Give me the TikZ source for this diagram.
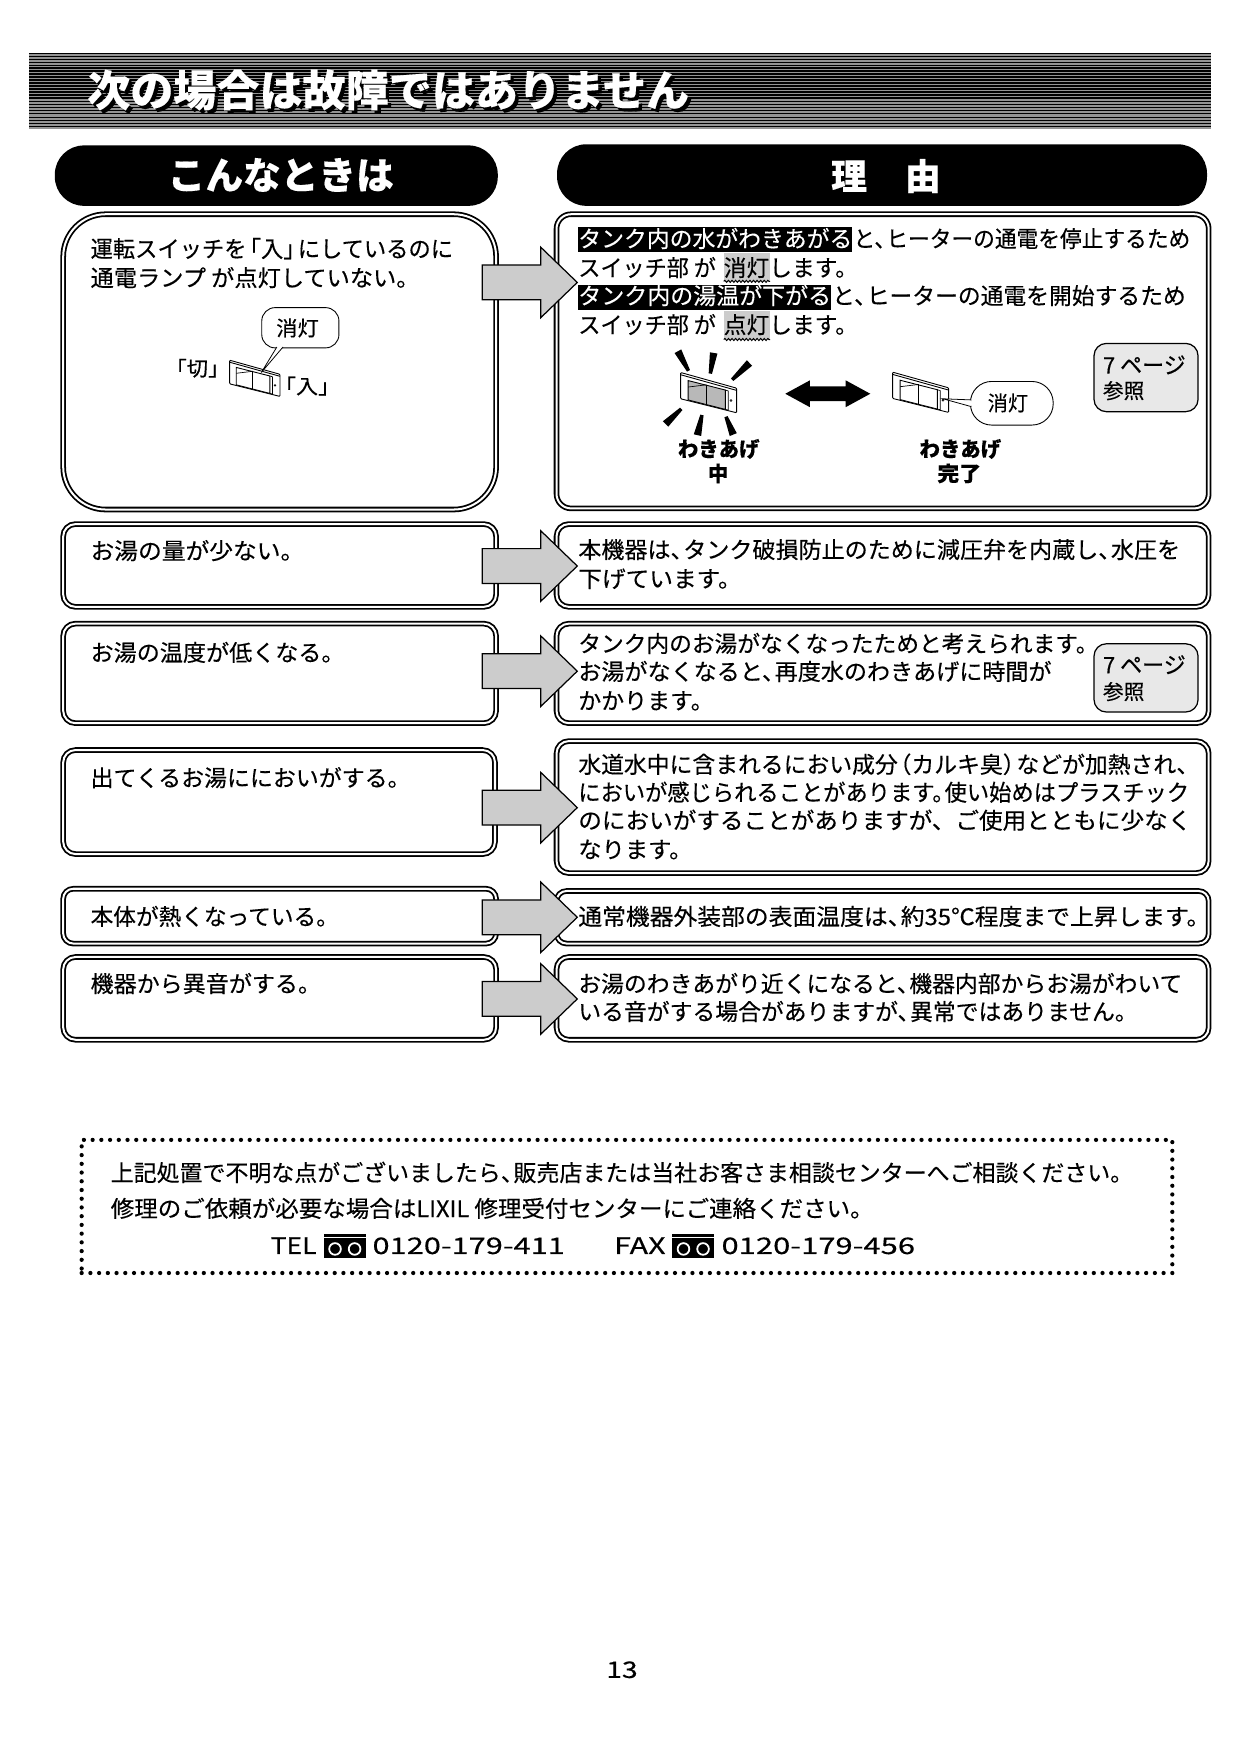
\documentclass[tikz,border=0pt]{standalone}
\usepackage{fontspec}
\usepackage{graphicx}
\setmainfont[FakeBold=0.3]{Noto Sans CJK JP}
\usetikzlibrary{shapes.arrows,calc,decorations.pathmorphing}
\newcommand\tou{、\kern-.45em}
\newcommand\ob{\kern-.35em「}
\newcommand\cb{」\kern-.35em}
\newcommand\tl[6][]{\node[txt,#1,font=\fontsize{20.4}{24}\selectfont] (#2) at (#3,{#5+8}) {\resizebox{\dimexpr#4pt-#3pt\relax}{\height}{#6}};}
\newcommand\tls[7][]{\node[txt,#1,font=\fontsize{#6}{#6}\selectfont] (#2) at (#3,{#5+0.39*#6}) {\resizebox{\dimexpr#4pt-#3pt\relax}{\height}{#7}};}
\newcommand\dbox[6]{\node[dblbox,rounded corners=#6,minimum width={(#4-#2-3)*1pt},minimum height={(#5-#3-3)*1pt}] (#1) at ({(#2+#4)/2},{(#3+#5)/2}) {};}
\newcommand\barrow[2]{\node[blockarrow] (#1) at (465.5,#2) {\rule{0pt}{30pt}};}
\newcommand\switchpanel[4]{\begin{scope}[shift={(#1,#2)},scale=#3]
 \draw[fill=white,line width=.8,rounded corners=.8] (0,0) -- (50,14) -- (50,36) -- (0,23.5) -- cycle;
 \draw[line width=.8] (0,2) -- (50,16);
 \draw[fill=#4,line width=.8] (6.6,7.2) -- (40,15.7) -- (40,33) -- (6.6,24.5) -- cycle;
 \draw[line width=.6] (23,11) -- (23,29);
 \draw[line width=.6] (6.6,13) -- (23,11);
 \draw[line width=.6] (40,15.7) -- (42.5,16.5) -- (42.5,33.6) -- (40,33);
 \draw[line width=.5] (45,25) circle (.9);
\end{scope}}
\newcommand\ray[2]{\fill[black] ($(#1)!3.4pt!90:(#2)$) -- ($(#1)!3.4pt!-90:(#2)$) -- ($(#2)!1.5pt!90:(#1)$) -- ($(#2)!1.5pt!-90:(#1)$) -- cycle;}
\newcommand\freedial[2]{\fill[black] (#1,#2) rectangle ++(37.5,22);
 \draw[white,line width=1.6] ({#1+10},{#2+13.5}) circle (5.2);
 \draw[white,line width=1.6] ({#1+27.5},{#2+13.5}) circle (5.2);
 \draw[white,line width=1] ({#1},{#2+3.4}) -- ({#1+37.5},{#2+3.4});}
\tikzset{
 txt/.style={anchor=base west,inner sep=0,outer sep=0},
 dblbox/.style={draw=black,fill=white,double=white,double distance=1.8,line width=1.6,inner sep=0,outer sep=0},
 pill/.style={fill=black,rounded corners=26,inner sep=0,outer sep=0},
 blockarrow/.style={single arrow,draw=black,fill=black!20,line width=1.1,inner sep=0,outer sep=0,minimum height=85,minimum width=62,single arrow head extend=16,single arrow tip angle=88},
 bubble/.style={draw=black,fill=white,line width=.8,inner sep=0,outer sep=0},
 refbox/.style={draw=black,fill=black!9,line width=1.1,rounded corners=11,inner sep=0,outer sep=0,minimum width=93,minimum height=61},
 wavy/.style={decorate,decoration={snake,amplitude=.9,segment length=3.2},line width=.9},
 dots/.style={draw=black,line width=3.8,line cap=round,dash pattern=on 0pt off 7.8pt},
}
\begin{document}
\begin{tikzpicture}[x=1pt,y=-1pt]
\useasboundingbox (0,0) rectangle (1108.5,1568);
\fill[white] (0,0) rectangle (1108.5,1568);
% header band
\fill[black!42] (26,47) rectangle (1083,115);
\foreach \yy in {48,50.7,...,60} {\draw[black,line width=.9] (26,\yy) -- (1083,\yy);}
\foreach \yy in {61,63.7,...,104} {\draw[black,line width=1.7] (26,\yy) -- (1083,\yy);}
\foreach \yy in {105,107.7,...,115} {\draw[black,line width=.9] (26,\yy) -- (1083,\yy);}
\tls[text=black]{titleshadow}{81}{619}{83}{38.4}{\bfseries 次の場合は故障ではありません}
\tls[text=white]{title}{78}{616}{80}{38.4}{\bfseries 次の場合は故障ではありません}
% column heads
\node[pill,minimum width=396,minimum height=54] (headL) at (247,157) {};
\node[pill,minimum width=581,minimum height=55] (headR) at (788.5,156.5) {};
\tls[text=white]{headLt}{150}{352}{156}{33.7}{\bfseries こんなときは}
\tls[text=white]{headRa}{743}{775}{157}{32}{\bfseries 理}
\tls[text=white]{headRb}{809}{841}{157}{32}{\bfseries 由}
% boxes
\dbox{L1}{55}{190}{445}{457}{38}
\dbox{R1}{496}{190}{1082}{456}{13}
\dbox{L2}{55}{467}{445}{544}{11}
\dbox{R2}{496}{467}{1082}{544}{11}
\dbox{L3}{55}{556}{445}{648}{11}
\dbox{R3}{496}{556}{1082}{648}{11}
\dbox{L4}{55}{669}{444}{765}{11}
\dbox{R4}{496}{661}{1082}{782}{11}
\dbox{L5}{55}{793}{445}{845}{9}
\dbox{R5}{496}{795}{1082}{845}{9}
\dbox{L6}{55}{854}{445}{931}{11}
\dbox{R6}{496}{854}{1082}{931}{11}
% arrows
\barrow{A1}{252.5}
\barrow{A2}{506}
\barrow{A3}{600}
\barrow{A4}{722}
\barrow{A5}{820}
\barrow{A6}{893}
% left texts
\tl{l1a}{81}{405}{222}{運転スイッチを\ob 入\cb にしているのに}
\tl{l1b}{81}{375}{248}{通電ランプ が点灯していない。}
\tl{l2}{81}{272}{492}{お湯の量が少ない。}
\tl{l3}{81}{308}{583}{お湯の温度が低くなる。}
\tl{l4}{81}{367}{695}{出てくるお湯ににおいがする。}
\tl{l5}{81}{303}{819}{本体が熱くなっている。}
\tl{l6}{81}{287}{879}{機器から異音がする。}
% left switch
\switchpanel{205.3}{322}{.9}{white}
\coordinate (swL) at (233.6,333);
\node[bubble,rounded corners=12,minimum width=69,minimum height=36] (bubL) at (268.5,293) {};
\draw[fill=white,line width=.7] ($(bubL.south)+(-21,-.8)$) -- (swL) -- ($(bubL.south)+(-15.5,-.8)$);
\tls{bubLt}{247}{285}{293}{18.5}{消灯}
\tls{kiri}{148}{205}{329}{18}{「切」}
\tls{iri}{245}{304}{345}{18}{「入」}
% right top block highlights
\fill[black] (517,203) rectangle (762,225);
\fill[black] (517,255) rectangle (743,277);
\fill[black!20] (647,226.5) rectangle (688.5,251);
\fill[black!20] (647,278) rectangle (688.5,303);
\draw[wavy] (647,251.5) -- (688.5,251.5);
\draw[wavy] (647,303.5) -- (688.5,303.5);
\tl[text=white]{r1a}{517}{762}{213}{タンク内の水がわきあがる}
\tl{r1a2}{763}{1064}{213}{と\tou ヒーターの通電を停止するため}
\tl{r1b}{517}{640}{239}{スイッチ部 が}
\tl{r1b2}{647}{767}{239}{消灯します。}
\tl[text=white]{r1c}{517}{743}{264}{タンク内の湯温が下がる}
\tl{r1c2}{744}{1060}{264}{と\tou ヒーターの通電を開始するため}
\tl{r1d}{517}{640}{290}{スイッチ部 が}
\tl{r1d2}{647}{767}{290}{点灯します。}
% lit switch with rays
\switchpanel{608.5}{333}{1}{black!28}
\coordinate (ra1) at (606,314); \coordinate (rb1) at (615.5,331.5);
\coordinate (ra2) at (638,315.5); \coordinate (rb2) at (635,334);
\coordinate (ra3) at (670,324.5); \coordinate (rb3) at (654.5,339.5);
\coordinate (ra4) at (595,379); \coordinate (rb4) at (609,365.5);
\coordinate (ra5) at (623.5,389); \coordinate (rb5) at (627.5,371);
\coordinate (ra6) at (655.5,388.5); \coordinate (rb6) at (649,372.5);
\ray{ra1}{rb1}\ray{ra2}{rb2}\ray{ra3}{rb3}\ray{ra4}{rb4}\ray{ra5}{rb5}\ray{ra6}{rb6}
% double arrow
\fill[black] (702,352) -- (724,340) -- (724,345.5) -- (756,345.5) -- (756,340) -- (778,352) -- (756,364) -- (756,358.5) -- (724,358.5) -- (724,364) -- cycle;
% unlit switch with bubble
\switchpanel{798}{332.7}{1}{white}
\coordinate (swR) at (843,356.5);
\node[bubble,rounded corners=19,minimum width=74,minimum height=39] (bubR) at (904.5,360.5) {};
\draw[fill=white,line width=.7] ($(bubR.west)+(.8,-3)$) -- (swR) -- ($(bubR.west)+(.8,3)$);
\tls{bubRt}{883}{919}{360}{18.5}{消灯}
\tls{cap1a}{606}{679}{401}{18.5}{\bfseries わきあげ}
\tls{cap1b}{633}{651}{423}{18.5}{\bfseries 中}
\tls{cap2a}{822}{895}{401}{18.5}{\bfseries わきあげ}
\tls{cap2b}{838}{877}{423}{18.5}{\bfseries 完了}
% page references
\node[refbox] (ref1) at (1024.5,337.5) {};
\tls{ref1a}{986}{1060}{326}{20.4}{7 ページ}
\tls{ref1b}{986}{1023}{349}{18.5}{参照}
\node[refbox] (ref2) at (1024.5,606) {};
\tls{ref2a}{986}{1060}{594}{20.4}{7 ページ}
\tls{ref2b}{986}{1023}{618}{18.5}{参照}
% right texts
\tl{r2a}{517}{1055}{491}{本機器は\tou タンク破損防止のために減圧弁を内蔵し\tou 水圧を}
\tl{r2b}{517}{663}{517}{下げています。}
\tl{r3a}{517}{982}{575}{タンク内のお湯がなくなったためと考えられます。}
\tl{r3b}{517}{940}{600}{お湯がなくなると\tou 再度水のわきあげに時間が}
\tl{r3c}{517}{638}{626}{かかります。}
\tl{r4a}{517}{1072}{683}{水道水中に含まれるにおい成分\kern-.4em（カルキ臭）\kern-.4em などが加熱され、}
\tl{r4b}{517}{1063}{708}{においが感じられることがあります。\kern-.45em 使い始めはプラスチック}
\tl{r4c}{517}{1065}{733}{のにおいがすることがありますが、ご使用とともに少なく}
\tl{r4d}{517}{619}{759}{なります。}
\tl{r5}{517}{1082}{819}{通常機器外装部の表面温度は\tou 約35℃程度まで上昇します。}
\tl{r6a}{517}{1057}{879}{お湯のわきあがり近くになると\tou 機器内部からお湯がわいて}
\tl{r6b}{517}{1017}{904}{いる音がする場合がありますが\tou 異常ではありません。}
% notice
\node[dots,inner sep=0,outer sep=0,minimum width=975,minimum height=119] (notice) at (560.5,1078.5) {};
\tl{n1}{99}{1013}{1048}{上記処置で不明な点がございましたら\tou 販売店または当社お客さま相談センターへご相談ください。}
\tl{n2}{99}{781}{1080}{修理のご依頼が必要な場合はLIXIL 修理受付センターにご連絡ください。}
\tl{n3}{242}{283}{1113}{TEL}
\freedial{289.5}{1103}
\tl{n4}{333}{505}{1113}{0120-179-411}
\tl{n5}{549}{595}{1113}{FAX}
\freedial{601}{1103}
\tl{n6}{645}{818}{1113}{0120-179-456}
\tl{pageno}{542}{570}{1492}{13}
\end{tikzpicture}
\end{document}
